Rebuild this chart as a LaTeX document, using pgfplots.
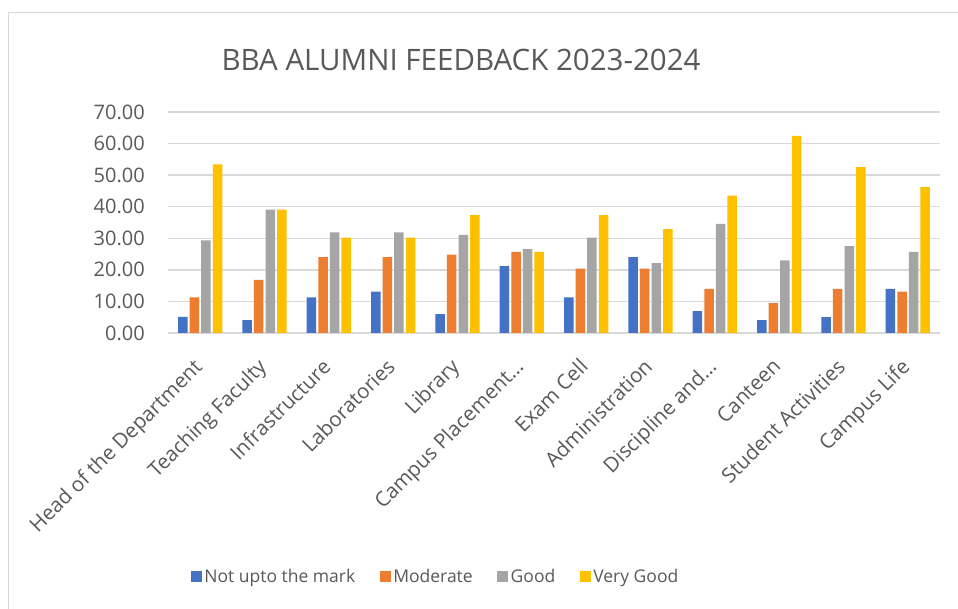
\documentclass[border=0pt]{standalone}
\usepackage{pgfplots}
\pgfplotsset{compat=1.18}
\usepackage{fontspec}
\setmainfont{Open Sans}
\definecolor{txt}{HTML}{595959}
\definecolor{gridc}{HTML}{D9D9D9}
\definecolor{cblue}{HTML}{4472C4}
\definecolor{corange}{HTML}{ED7D31}
\definecolor{cgray}{HTML}{A5A5A5}
\definecolor{cyellow}{HTML}{FFC000}
\begin{document}
\begin{tikzpicture}[x=1pt,y=1pt]
\useasboundingbox (0,0) rectangle (958,609);
\fill[white] (0,0) rectangle (958,609);
\draw[gridc, line width=1.5pt] (8.5,0) -- (8.5,596.5) -- (958,596.5);
\begin{axis}[
  at={(168pt,276pt)}, anchor=south west,
  scale only axis, width=772pt, height=221pt,
  ybar=2.1pt, bar width=9.5pt,
  xmin=-0.5, xmax=11.5, ymin=0, ymax=70,
  ytick={0,10,...,70},
  xtick={0,...,11},
  xticklabels={Head of the Department,Teaching Faculty,Infrastructure,Laboratories,Library,Campus Placement…,Exam Cell,Administration,Discipline and…,Canteen,Student Activities,Campus Life},
  axis line style={draw=none},
  major tick length=0pt,
  ymajorgrids, grid style={gridc, line width=1.3pt},
  /pgf/number format/fixed,
  /pgf/number format/fixed zerofill,
  /pgf/number format/precision=2,
  /pgf/number format/assume math mode=true,
  yticklabel style={font=\fontsize{20}{22}\selectfont, text=txt, anchor=east, inner sep=0pt, xshift=-23pt},
  xticklabel style={font=\fontsize{20.5}{23}\selectfont, text=txt, inner sep=0pt, xshift=-8pt, yshift=-24pt, rotate=45, anchor=north east},
  legend columns=4,
  legend style={at={(0.347,-1.104)}, anchor=center, draw=none, fill=none,
    font=\fontsize{17.5}{20}\selectfont, text=txt,
    /tikz/every even column/.append style={column sep=22pt},
    nodes={inner sep=2.5pt}},
  legend image code/.code={\fill[#1,draw=none] (0pt,-5.5pt) rectangle (11pt,5.5pt);},
]
\addplot[fill=cblue, draw=none] coordinates {(0,5.1) (1,4.1) (2,11.3) (3,13.1) (4,6.0) (5,21.2) (6,11.3) (7,24.0) (8,6.9) (9,4.1) (10,5.0) (11,14.0)};
\addplot[fill=corange, draw=none] coordinates {(0,11.3) (1,16.8) (2,24.0) (3,24.0) (4,24.8) (5,25.7) (6,20.4) (7,20.4) (8,14.0) (9,9.5) (10,14.0) (11,13.1)};
\addplot[fill=cgray, draw=none] coordinates {(0,29.3) (1,39.1) (2,31.9) (3,31.9) (4,31.1) (5,26.6) (6,30.2) (7,22.1) (8,34.6) (9,23.0) (10,27.5) (11,25.7)};
\addplot[fill=cyellow, draw=none] coordinates {(0,53.4) (1,39.1) (2,30.2) (3,30.2) (4,37.3) (5,25.7) (6,37.3) (7,32.9) (8,43.5) (9,62.4) (10,52.5) (11,46.2)};
\legend{Not upto the mark, Moderate, Good, Very Good}
\end{axis}
\node[text=txt, font=\fontsize{29.5}{32}\selectfont, inner sep=0pt] at (461,549) {BBA ALUMNI FEEDBACK 2023-2024};
\end{tikzpicture}
\end{document}
